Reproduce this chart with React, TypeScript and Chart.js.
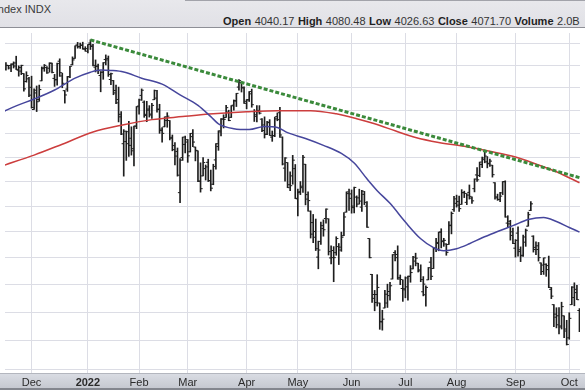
import React, { useEffect, useRef } from "react";
import { Chart, registerables } from "chart.js";

Chart.register(...registerables);

type Bar = [number, number, number, number]; // open, high, low, close

// ---- calendar ----
const FIRST_SESSION = "2021-11-15";
const HOLIDAYS = [
  "2021-11-25", "2021-12-24", "2022-01-17", "2022-02-21", "2022-04-15",
  "2022-05-30", "2022-06-20", "2022-07-04", "2022-09-05",
];
const MONTHS = ["Jan", "Feb", "Mar", "Apr", "May", "Jun", "Jul", "Aug", "Sep", "Oct", "Nov", "Dec"];

// ---- daily OHLC ----
const nov21: Bar[] = [
  [4689, 4697, 4673, 4683], [4684, 4714, 4679, 4701], [4701, 4701, 4684, 4689],
  [4700, 4708, 4672, 4704], [4708, 4717, 4689, 4698], [4712, 4743, 4682, 4683],
  [4679, 4699, 4652, 4691], [4675, 4702, 4659, 4701], [4664, 4664, 4585, 4595],
  [4628, 4672, 4625, 4655], [4640, 4647, 4560, 4567],
];
const dec21: Bar[] = [
  [4602, 4652, 4510, 4513], [4504, 4595, 4504, 4577], [4589, 4608, 4495, 4538],
  [4548, 4612, 4540, 4592], [4631, 4694, 4631, 4686], [4690, 4705, 4674, 4701],
  [4691, 4695, 4665, 4667], [4688, 4713, 4670, 4712], [4710, 4711, 4667, 4669],
  [4642, 4660, 4606, 4635], [4637, 4712, 4612, 4709], [4720, 4731, 4651, 4668],
  [4653, 4666, 4600, 4620], [4587, 4588, 4532, 4568], [4594, 4651, 4584, 4649],
  [4650, 4697, 4645, 4697], [4704, 4740, 4703, 4726], [4733, 4791, 4733, 4791],
  [4795, 4807, 4780, 4786], [4788, 4804, 4779, 4793], [4795, 4808, 4775, 4778],
  [4775, 4787, 4766, 4766],
];
const jan22: Bar[] = [
  [4778, 4797, 4758, 4797], [4804, 4819, 4774, 4794], [4788, 4798, 4699, 4701],
  [4693, 4726, 4671, 4696], [4698, 4707, 4663, 4677], [4655, 4673, 4582, 4670],
  [4670, 4714, 4638, 4713], [4728, 4749, 4703, 4726], [4733, 4744, 4651, 4660],
  [4637, 4666, 4614, 4663], [4632, 4633, 4569, 4577], [4588, 4612, 4530, 4533],
  [4548, 4603, 4450, 4483], [4472, 4495, 4395, 4398], [4357, 4417, 4222, 4410],
  [4366, 4411, 4287, 4357], [4408, 4453, 4304, 4350], [4380, 4429, 4309, 4327],
  [4336, 4432, 4264, 4432], [4432, 4517, 4421, 4516],
];
const feb22: Bar[] = [
  [4519, 4550, 4484, 4546], [4566, 4595, 4544, 4589], [4536, 4542, 4470, 4478],
  [4483, 4540, 4451, 4501], [4506, 4521, 4471, 4484], [4480, 4531, 4465, 4522],
  [4547, 4590, 4547, 4587], [4554, 4589, 4492, 4504], [4506, 4527, 4401, 4419],
  [4413, 4426, 4364, 4401], [4429, 4472, 4429, 4472], [4456, 4490, 4427, 4475],
  [4456, 4456, 4373, 4380], [4384, 4394, 4327, 4349], [4332, 4362, 4268, 4305],
  [4324, 4339, 4222, 4226], [4155, 4295, 4115, 4288], [4299, 4385, 4287, 4385],
  [4354, 4389, 4318, 4374],
];
const mar22: Bar[] = [
  [4364, 4375, 4279, 4306], [4323, 4401, 4322, 4387], [4401, 4417, 4345, 4364],
  [4343, 4343, 4285, 4329], [4327, 4327, 4199, 4201], [4202, 4277, 4157, 4171],
  [4223, 4299, 4223, 4278], [4253, 4268, 4206, 4260], [4279, 4292, 4200, 4204],
  [4203, 4247, 4162, 4173], [4189, 4271, 4187, 4262], [4289, 4358, 4251, 4357],
  [4345, 4412, 4329, 4412], [4407, 4465, 4390, 4463], [4462, 4481, 4424, 4461],
  [4469, 4522, 4469, 4512], [4493, 4501, 4455, 4456], [4470, 4521, 4469, 4520],
  [4523, 4546, 4501, 4543], [4541, 4575, 4517, 4575], [4603, 4637, 4589, 4632],
  [4624, 4627, 4581, 4602], [4599, 4604, 4531, 4531],
];
const apr22: Bar[] = [
  [4540, 4548, 4507, 4546], [4547, 4583, 4539, 4583], [4573, 4594, 4514, 4525],
  [4495, 4504, 4452, 4481], [4474, 4521, 4450, 4500], [4494, 4521, 4484, 4488],
  [4462, 4464, 4408, 4413], [4437, 4472, 4381, 4397], [4397, 4453, 4395, 4447],
  [4449, 4460, 4392, 4392], [4385, 4411, 4367, 4392], [4390, 4471, 4387, 4463],
  [4473, 4489, 4455, 4460], [4490, 4513, 4384, 4394], [4385, 4386, 4268, 4272],
  [4255, 4299, 4201, 4297], [4278, 4278, 4175, 4175], [4187, 4240, 4163, 4183],
  [4223, 4308, 4189, 4288], [4253, 4270, 4131, 4132],
];
const may22: Bar[] = [
  [4130, 4169, 4062, 4155], [4159, 4200, 4147, 4175], [4181, 4308, 4156, 4300],
  [4271, 4271, 4106, 4147], [4129, 4158, 4081, 4123], [4081, 4082, 3976, 3991],
  [4036, 4068, 3958, 4001], [3979, 4050, 3928, 3935], [3903, 3964, 3859, 3930],
  [3963, 4038, 3951, 4024], [4013, 4047, 3983, 4008], [4052, 4090, 4034, 4089],
  [4051, 4051, 3911, 3924], [3900, 3946, 3877, 3901], [3928, 3943, 3811, 3901],
  [3920, 3981, 3910, 3974], [3943, 3955, 3875, 3941], [3930, 3999, 3925, 3979],
  [3985, 4075, 3985, 4058], [4077, 4158, 4077, 4158], [4151, 4169, 4084, 4132],
];
const jun22: Bar[] = [
  [4150, 4166, 4073, 4101], [4095, 4177, 4074, 4176], [4137, 4142, 4098, 4109],
  [4134, 4169, 4109, 4121], [4097, 4164, 4080, 4161], [4148, 4160, 4107, 4116],
  [4101, 4119, 4017, 4018], [3974, 3974, 3900, 3901], [3838, 3838, 3735, 3750],
  [3764, 3779, 3705, 3735], [3764, 3837, 3722, 3790], [3733, 3733, 3639, 3667],
  [3665, 3707, 3636, 3675], [3715, 3779, 3715, 3765], [3733, 3802, 3717, 3760],
  [3775, 3809, 3743, 3796], [3821, 3913, 3821, 3912], [3920, 3928, 3889, 3901],
  [3913, 3946, 3820, 3821], [3826, 3836, 3800, 3819], [3786, 3818, 3739, 3785],
];
const jul22: Bar[] = [
  [3781, 3829, 3752, 3825], [3792, 3832, 3743, 3831], [3831, 3871, 3809, 3845],
  [3859, 3906, 3859, 3903], [3888, 3918, 3870, 3899], [3880, 3880, 3847, 3855],
  [3851, 3874, 3811, 3819], [3774, 3830, 3759, 3802], [3763, 3796, 3722, 3790],
  [3818, 3864, 3818, 3863], [3884, 3902, 3819, 3831], [3860, 3939, 3860, 3937],
  [3935, 3975, 3924, 3959], [3955, 3999, 3927, 3999], [3999, 4012, 3938, 3962],
  [3965, 3975, 3944, 3967], [3953, 3954, 3910, 3921], [3951, 4040, 3951, 4024],
  [4026, 4078, 3992, 4072], [4087, 4140, 4080, 4130],
];
const aug22: Bar[] = [
  [4112, 4145, 4097, 4119], [4105, 4141, 4080, 4091], [4108, 4167, 4108, 4155],
  [4155, 4161, 4135, 4152], [4116, 4151, 4107, 4145], [4156, 4186, 4129, 4140],
  [4133, 4138, 4112, 4122], [4171, 4211, 4158, 4210], [4227, 4257, 4200, 4207],
  [4225, 4280, 4220, 4280], [4270, 4301, 4257, 4297], [4290, 4325, 4277, 4305],
  [4281, 4303, 4256, 4275], [4273, 4292, 4262, 4284], [4267, 4267, 4218, 4228],
  [4195, 4196, 4129, 4138], [4134, 4149, 4124, 4128], [4127, 4156, 4119, 4141],
  [4154, 4200, 4147, 4200], [4199, 4203, 4057, 4058], [4034, 4063, 4017, 4031],
  [4041, 4045, 3968, 3986], [4000, 4015, 3954, 3955],
];
const sep22: Bar[] = [
  [3937, 3970, 3903, 3967], [3995, 4019, 3907, 3924], [3931, 3942, 3886, 3908],
  [3910, 3987, 3906, 3980], [3960, 4011, 3944, 4006], [4022, 4077, 4022, 4067],
  [4084, 4119, 4083, 4110], [3983, 3985, 3922, 3932], [3940, 3961, 3912, 3946],
  [3932, 3959, 3888, 3901], [3881, 3881, 3837, 3873], [3849, 3900, 3838, 3900],
  [3876, 3878, 3831, 3856], [3871, 3907, 3789, 3790], [3783, 3790, 3749, 3758],
  [3727, 3727, 3648, 3693], [3682, 3716, 3644, 3655], [3687, 3717, 3623, 3647],
  [3651, 3736, 3640, 3720], [3687, 3687, 3610, 3640], [3633, 3671, 3584, 3586],
];
const oct22: Bar[] = [
  [3609, 3698, 3604, 3678], [3727, 3793, 3727, 3791], [3753, 3807, 3723, 3783],
  [3771, 3798, 3745, 3745], [3706, 3713, 3631, 3640],
];

// ---- moving averages (session index, value) ----
const ma50Sessions = [0, 5, 12, 20, 28, 34, 38, 42, 47, 54, 62, 69, 76, 81, 84, 90, 96, 102, 107, 111, 118, 125, 132, 137, 142, 146, 151, 157, 163, 168, 172, 177, 182, 187, 193, 199, 205, 211, 216, 221, 225];
const ma50Values = [4495, 4520, 4550, 4590, 4643, 4670, 4680, 4678, 4671, 4643, 4616, 4568, 4522, 4473, 4442, 4421, 4417, 4430, 4426, 4404, 4379, 4350, 4316, 4276, 4211, 4163, 4112, 4038, 3973, 3939, 3927, 3935, 3954, 3977, 4001, 4024, 4048, 4056, 4040, 4017, 3999];
const ma200Sessions = [0, 12, 23, 35, 47, 58, 70, 82, 95, 107, 120, 130, 138, 145, 153, 161, 170, 180, 190, 200, 208, 216, 225];
const ma200Values = [4266, 4309, 4355, 4407, 4438, 4460, 4473, 4485, 4494, 4499, 4499, 4485, 4464, 4442, 4412, 4383, 4362, 4346, 4325, 4301, 4272, 4240, 4195];

// ---- trendline ----
const trendSessions = [34, 225];
const trendValues = [4818.6, 4216];

// ---- axes ----
const VIEW_FIRST = 0.635;
const VIEW_LAST = 225.2;
const PRICE_MIN = 3488;
const PRICE_MAX = 4851;
const PRICE_GRID = [3500, 3600, 3700, 3800, 3900, 4000, 4100, 4200, 4300, 4400, 4500, 4600, 4700, 4800];

// ---- header ----
const TITLE = "S&P 500 Large Cap Index INDX";
const QUOTE: [string, string][] = [
  ["Open", "4040.17"], ["High", "4080.48"], ["Low", "4026.63"], ["Close", "4071.70"], ["Volume", "2.0B"],
];

const FONT = '"Liberation Sans", Arial, sans-serif';

function tradingDays(start: string, count: number, holidays: string[]): Date[] {
  const out: Date[] = [];
  const d = new Date(start + "T12:00:00Z");
  while (out.length < count) {
    const dow = d.getUTCDay();
    const iso = d.toISOString().slice(0, 10);
    if (dow !== 0 && dow !== 6 && !holidays.includes(iso)) out.push(new Date(d.getTime()));
    d.setUTCDate(d.getUTCDate() + 1);
  }
  return out;
}

export default function App() {
  const ref = useRef<HTMLCanvasElement>(null);

  useEffect(() => {
    const bars: Bar[] = [...nov21, ...dec21, ...jan22, ...feb22, ...mar22, ...apr22, ...may22, ...jun22, ...jul22, ...aug22, ...sep22, ...oct22];
    const dates = tradingDays(FIRST_SESSION, bars.length, HOLIDAYS);
    const monthTicks: { value: number; label: string }[] = [];
    dates.forEach((d, i) => {
      if (i > 0 && d.getUTCMonth() !== dates[i - 1].getUTCMonth()) {
        const m = d.getUTCMonth();
        monthTicks.push({ value: i, label: m === 0 ? String(d.getUTCFullYear()) : MONTHS[m] });
      }
    });
    const labelOf = new Map(monthTicks.map((t) => [t.value, t.label]));
    const ink = "#1e1e1e";

    const bandPlugin = {
      id: "axisBand",
      beforeDraw(chart: any) {
        const { ctx, chartArea, width, height } = chart;
        ctx.save();
        ctx.fillStyle = "#ffffff";
        ctx.fillRect(0, 0, width, height);
        const g = ctx.createLinearGradient(0, chartArea.bottom, 0, height);
        g.addColorStop(0, "#dadde4");
        g.addColorStop(1, "#c3c6ce");
        ctx.fillStyle = g;
        ctx.fillRect(0, chartArea.bottom, width, height - chartArea.bottom);
        ctx.fillStyle = "#b3b6be";
        ctx.fillRect(0, chartArea.bottom, width, 1);
        ctx.fillStyle = "#83868e";
        ctx.fillRect(0, height - 2, width, 2);
        ctx.restore();
      },
    };

    const chart = new Chart(ref.current as HTMLCanvasElement, {
      type: "line",
      data: {
        datasets: [
          {
            type: "line",
            data: trendSessions.map((s, k) => ({ x: s, y: trendValues[k] })),
            borderColor: "#3b8a3b",
            borderWidth: 3,
            borderDash: [4, 2],
            pointRadius: 0,
            order: 0,
          } as any,
          {
            type: "line",
            data: ma50Sessions.map((s, k) => ({ x: s, y: ma50Values[k] })),
            borderColor: "#46469c",
            borderWidth: 1.5,
            pointRadius: 0,
            cubicInterpolationMode: "monotone",
            order: 1,
          },
          {
            type: "line",
            data: ma200Sessions.map((s, k) => ({ x: s, y: ma200Values[k] })),
            borderColor: "#cc3d3d",
            borderWidth: 1.5,
            pointRadius: 0,
            cubicInterpolationMode: "monotone",
            order: 1,
          },
          {
            type: "line",
            showLine: false,
            data: bars.map((b, i) => ({ x: i - 0.45, y: b[0] })),
            pointStyle: "line",
            pointRadius: 1,
            pointBorderWidth: 1,
            pointBorderColor: ink,
            pointBackgroundColor: ink,
            order: 2,
          },
          {
            type: "line",
            showLine: false,
            data: bars.map((b, i) => ({ x: i + 0.45, y: b[3] })),
            pointStyle: "line",
            pointRadius: 1,
            pointBorderWidth: 1,
            pointBorderColor: ink,
            pointBackgroundColor: ink,
            order: 2,
          },
          {
            type: "bar",
            data: bars.map((b, i) => ({ x: i, y: [b[2], b[1]] })),
            backgroundColor: ink,
            borderWidth: 0,
            barThickness: 1,
            grouped: false,
            order: 3,
          } as any,
        ],
      },
      options: {
        animation: false,
        responsive: false,
        maintainAspectRatio: false,
        devicePixelRatio: 1,
        events: [],
        layout: { padding: 0 },
        plugins: { legend: { display: false }, tooltip: { enabled: false } },
        scales: {
          x: {
            type: "linear",
            min: VIEW_FIRST,
            max: VIEW_LAST,
            bounds: "data",
            offset: false,
            afterBuildTicks: (s: any) => {
              s.ticks = monthTicks.map((t) => ({ value: t.value }));
            },
            afterFit: (s: any) => {
              s.height = 17;
            },
            grid: { color: "#dcdde5", lineWidth: 1, drawTicks: false, offset: false },
            border: { display: false },
            ticks: {
              autoSkip: false,
              maxRotation: 0,
              minRotation: 0,
              padding: 3,
              color: "#2a2a2a",
              font: (ctx: any) => ({
                family: FONT,
                size: 11,
                weight: ctx.tick && ctx.tick.label && /^\d{4}$/.test(ctx.tick.label) ? "bold" : "normal",
              }),
              callback: (v: any) => labelOf.get(v) ?? "",
            },
          },
          y: {
            type: "logarithmic",
            min: PRICE_MIN,
            max: PRICE_MAX,
            bounds: "data",
            afterBuildTicks: (s: any) => {
              s.ticks = PRICE_GRID.filter((v) => v >= PRICE_MIN && v <= PRICE_MAX).map((v) => ({ value: v }));
            },
            afterFit: (s: any) => {
              s.width = 0;
            },
            grid: { color: "#dcdde5", lineWidth: 1, drawTicks: false },
            border: { display: false },
            ticks: { display: false },
          },
        },
      } as any,
      plugins: [bandPlugin],
    });
    return () => chart.destroy();
  }, []);

  return (
    <div
      style={{
        position: "fixed",
        left: 0,
        top: 0,
        width: 585,
        height: 390,
        overflow: "hidden",
        background: "#ffffff",
        fontFamily: FONT,
      }}
    >
      <div
        style={{
          position: "absolute",
          left: 0,
          top: 0,
          width: 585,
          height: 27,
          background: "linear-gradient(#e8e8ec, #e1e1e6)",
          borderBottom: "1px solid #8e8f96",
          overflow: "hidden",
        }}
      >
        <div style={{ position: "absolute", left: 185, top: 0, width: 400, height: 1, background: "#a2a3aa" }} />
        <span
          style={{
            position: "absolute",
            right: 534,
            top: 3,
            fontSize: 11,
            lineHeight: "13px",
            color: "#3a3a3a",
            whiteSpace: "nowrap",
          }}
        >
          {TITLE}
        </span>
        <div
          style={{
            position: "absolute",
            left: 223,
            top: 15,
            display: "flex",
            fontSize: 11,
            lineHeight: "13px",
            whiteSpace: "nowrap",
          }}
        >
          {QUOTE.map(([k, v]) => (
            <span key={k} style={{ marginRight: 3.5 }}>
              <b style={{ color: "#1f1f1f" }}>{k}</b>
              <span style={{ color: "#333", marginLeft: 3.5 }}>{v}</span>
            </span>
          ))}
        </div>
      </div>
      <canvas
        ref={ref}
        width={585}
        height={362}
        style={{ position: "absolute", left: 0, top: 28, width: 585, height: 362, display: "block" }}
      />
    </div>
  );
}
